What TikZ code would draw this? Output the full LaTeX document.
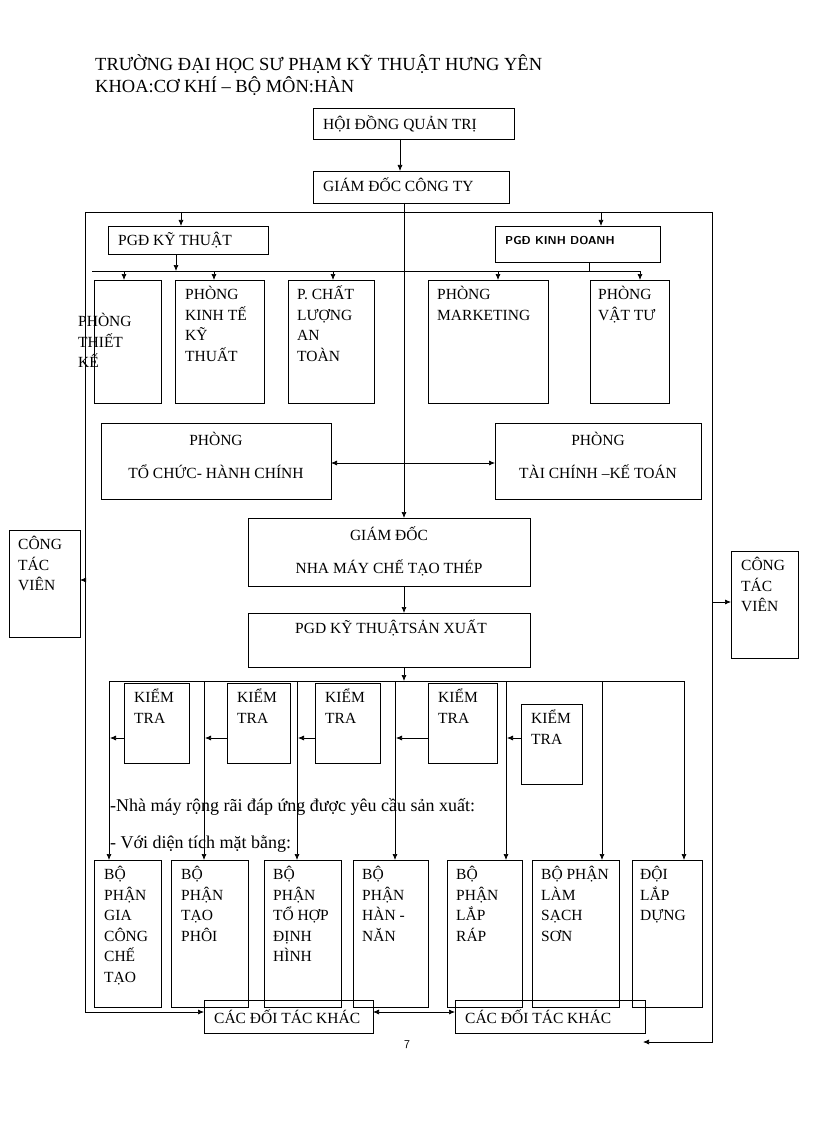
\documentclass[tikz,border=0pt]{standalone}
\usepackage{fontspec}
\setmainfont{Liberation Serif}
\usetikzlibrary{arrows.meta,calc}
\begin{document}
\begin{tikzpicture}[x=1pt,y=-1pt,
  box/.style={draw,line width=0.8pt,inner sep=0pt,outer sep=0pt,anchor=north west},
  txt/.style={inner sep=0pt,anchor=north west,align=left,font=\fontsize{15.5}{20.5}\selectfont},
  ctxt/.style={inner sep=0pt,align=center,font=\fontsize{15.5}{33}\selectfont},
  ar/.style={-{Latex[length=6pt,width=5pt]},line width=0.7pt},
  ln/.style={line width=0.7pt}]
\useasboundingbox (0,0) rectangle (816,1123);
\newcommand\bx[5]{\node[box,minimum width={#4-#2},minimum height={#5-#3}] (#1) at (#2,#3) {};}
% header
\node[inner sep=0,anchor=west,font=\fontsize{18.5}{20}\selectfont] (h1) at (95,64) {TRƯỜNG ĐẠI HỌC SƯ PHẠM KỸ THUẬT HƯNG YÊN};
\node[inner sep=0,anchor=west,font=\fontsize{18.5}{20}\selectfont] (h2) at (95,86) {KHOA:CƠ KHÍ – BỘ MÔN:HÀN};
% background text
\node[inner sep=0,anchor=west,font=\fontsize{18}{20}\selectfont] (bg1) at (110,807) {-Nhà máy rộng rãi đáp ứng được yêu cầu sản xuất:};
\node[inner sep=0,anchor=west,font=\fontsize{18}{20}\selectfont] (bg2) at (110,844) {- Với diện tích mặt bằng:};
% top boxes
\bx{hd}{313}{108}{514}{139}
\node[txt,anchor=west] at (323,124) {HỘI ĐỒNG QUẢN TRỊ};
\bx{gd}{313}{171}{509}{203}
\node[txt,anchor=west] at (323,185) {GIÁM ĐỐC CÔNG TY};
\bx{pkt}{108}{226}{268}{254}
\node[txt,anchor=west] at (118,240) {PGĐ KỸ THUẬT};
\bx{pkd}{495}{226}{660}{262}
\node[txt,anchor=west,font=\sffamily\bfseries\fontsize{11.5}{14}\selectfont] at (505,241) {PGĐ KINH DOANH};
% phong boxes
\bx{p1}{94}{280}{161}{403}
\node[txt] at (78,313) {PHÒNG\\THIẾT\\KẾ};
\bx{p2}{175}{280}{264}{403}
\node[txt] at (185,286) {PHÒNG\\KINH TẾ\\KỸ\\THUẤT};
\bx{p3}{288}{280}{374}{403}
\node[txt] at (297,286) {P. CHẤT\\LƯỢNG\\AN\\TOÀN};
\bx{p4}{428}{280}{548}{403}
\node[txt] at (437,286) {PHÒNG\\MARKETING};
\bx{p5}{590}{280}{669}{403}
\node[txt] at (598,286) {PHÒNG\\VẬT TƯ};
\bx{tc}{101}{423}{331}{499}
\node[ctxt] at (216,455) {PHÒNG\\TỔ CHỨC- HÀNH CHÍNH};
\bx{kt}{495}{423}{701}{499}
\node[ctxt] at (598,455) {PHÒNG\\TÀI CHÍNH –KẾ TOÁN};
\bx{nm}{248}{518}{530}{586}
\node[ctxt] at (389,551) {GIÁM ĐỐC\\NHA MÁY CHẾ TẠO THÉP};
\bx{sx}{248}{613}{530}{667}
\node[txt,anchor=west] at (295,628) {PGD KỸ THUẬTSẢN XUẤT};
\bx{c1}{9}{530}{80}{637}
\node[txt] at (18,536) {CÔNG\\TÁC\\VIÊN};
\bx{c2}{731}{551}{798}{658}
\node[txt] at (741,557) {CÔNG\\TÁC\\VIÊN};
% kiem tra
\bx{k1}{124}{683}{189}{763}
\bx{k2}{227}{683}{290}{763}
\bx{k3}{315}{683}{380}{763}
\bx{k4}{428}{683}{497}{763}
\bx{k5}{521}{704}{582}{784}
\foreach \k in {k1,k2,k3,k4,k5}{\node[txt] at ($(\k.north west)+(10,6)$) {KIỂM\\TRA};}
% bottom boxes
\bx{b1}{94}{860}{161}{1007}
\node[txt] at (104,866) {BỘ\\PHẬN\\GIA\\CÔNG\\CHẾ\\TẠO};
\bx{b2}{171}{860}{248}{1007}
\node[txt] at (181,866) {BỘ\\PHẬN\\TẠO\\PHÔI};
\bx{b3}{264}{860}{341}{1007}
\node[txt] at (273,866) {BỘ\\PHẬN\\TỔ HỢP\\ĐỊNH\\HÌNH};
\bx{b4}{353}{860}{428}{1007}
\node[txt] at (362,866) {BỘ\\PHẬN\\HÀN -\\NĂN};
\bx{b5}{447}{860}{522}{1007}
\node[txt] at (456,866) {BỘ\\PHẬN\\LẮP\\RÁP};
\bx{b6}{532}{860}{619}{1007}
\node[txt] at (541,866) {BỘ PHẬN\\LÀM\\SẠCH\\SƠN};
\bx{b7}{632}{860}{702}{1007}
\node[txt] at (640,866) {ĐỘI\\LẮP\\DỰNG};
\bx{d1}{204}{1000}{373}{1033}
\node[txt,anchor=west] at (214,1017) {CÁC ĐỐI TÁC KHÁC};
\bx{d2}{455}{1000}{645}{1033}
\node[txt,anchor=west] at (465,1017) {CÁC ĐỐI TÁC KHÁC};
\node[inner sep=0,font=\sffamily\fontsize{12}{12}\selectfont] (pg) at (407,1045) {7};
% connectors top
\draw[ar] (hd.south -| 400,0) -- (gd.north -| 400,0);
\draw[ln] (gd.south -| 404,0) -- (404,212);
\coordinate (TL) at (85,212); \coordinate (TR) at (712,212);
\draw[ln] (TL) -- (TR);
\draw[ar] (181,212) -- (pkt.north -| 181,0);
\draw[ar] (601,212) -- (pkd.north -| 601,0);
\draw[ar] (404,212) -- (nm.north -| 404,0);
\draw[ar] (pkt.south -| 176,0) -- (176,271);
\draw[ln] (pkd.south -| 589,0) -- (589,271);
\draw[ln] (92,271) -- (640,271);
\draw[ar] (124,271) -- (p1.north -| 124,0);
\draw[ar] (214,271) -- (p2.north -| 214,0);
\draw[ar] (333,271) -- (p3.north -| 333,0);
\draw[ar] (498,271) -- (p4.north -| 498,0);
\draw[ar] (640,271) -- (p5.north -| 640,0);
\draw[{Latex[length=6pt,width=5pt]}-{Latex[length=6pt,width=5pt]},line width=0.7pt] (tc.east |- 0,463) -- (kt.west |- 0,463);
\draw[ar] (nm.south -| 404,0) -- (sx.north -| 404,0);
\draw[ar] (sx.south -| 404,0) -- (404,681);
\draw[ln] (109,681) -- (684,681);
\foreach \x/\b in {109/b1,204/b2,297/b3,395/b4,506/b5,602/b6,684/b7}{\draw[ar] (\x,681) -- (\b.north -| \x,0);}
\draw[ar] (k1.west |- 0,738) -- (110,738);
\draw[ar] (k2.west |- 0,738) -- (205,738);
\draw[ar] (k3.west |- 0,738) -- (298,738);
\draw[ar] (k4.west |- 0,738) -- (396,738);
\draw[ar] (k5.west |- 0,738) -- (507,738);
% frame
\draw[ar] (TL) -- (85,1012) -- (d1.west |- 0,1012);
\draw[ar] (TR) -- (712,1042) -- (643,1042);
\draw[ar] (85,580) -- (c1.east |- 0,580);
\draw[ar] (712,602) -- (c2.west |- 0,602);
\draw[{Latex[length=6pt,width=5pt]}-{Latex[length=6pt,width=5pt]},line width=0.7pt] (d1.east |- 0,1012) -- (d2.west |- 0,1012);
\end{tikzpicture}
\end{document}
